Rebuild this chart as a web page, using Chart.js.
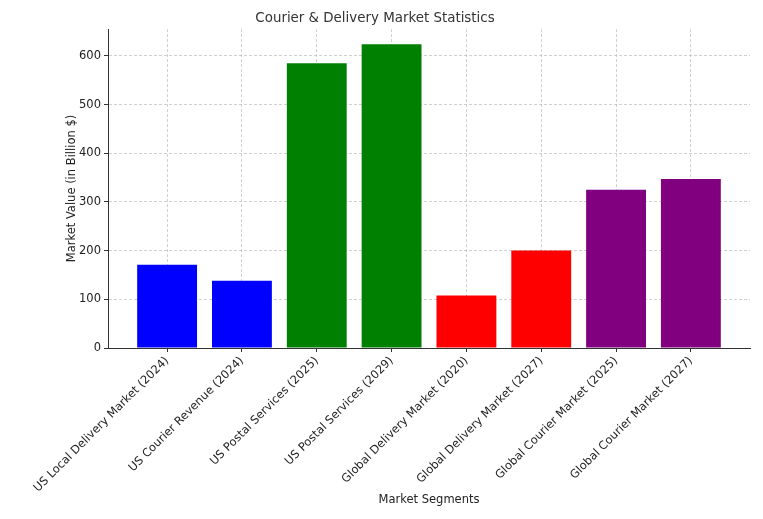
<!DOCTYPE html>
<html>
<head>
<meta charset="utf-8">
<script src="https://cdn.jsdelivr.net/npm/chart.js@4"></script>
<style>
  body { margin: 0; background: #fff; }
  canvas { display: block; }
</style>
</head>
<body>
<canvas id="chart" width="763" height="519"></canvas>
<script>
// data
const segments = [
  "US Local Delivery Market (2024)",
  "US Courier Revenue (2024)",
  "US Postal Services (2025)",
  "US Postal Services (2029)",
  "Global Delivery Market (2020)",
  "Global Delivery Market (2027)",
  "Global Courier Market (2025)",
  "Global Courier Market (2027)"
];
const values = [171, 138, 585, 624, 108, 200, 325, 347];
const barColors = ["#0000ff", "#0000ff", "#008000", "#008000", "#ff0000", "#ff0000", "#800080", "#800080"];
const yTicks = [0, 100, 200, 300, 400, 500, 600];

const font = "'DejaVu Sans', sans-serif";
const gridColor = "rgba(170,170,170,0.55)";

new Chart(document.getElementById('chart'), {
  type: 'bar',
  data: {
    datasets: [{
      data: values.map((v, i) => ({ x: i, y: v })),
      backgroundColor: barColors,
      barPercentage: 0.8,
      categoryPercentage: 1.0
    }]
  },
  options: {
    responsive: false,
    animation: false,
    layout: { padding: { left: 0, right: 13, top: 0, bottom: 0 } },
    plugins: {
      legend: { display: false },
      tooltip: { enabled: false },
      title: {
        display: true,
        text: 'Courier & Delivery Market Statistics',
        color: '#333',
        font: { family: font, size: 13.4, weight: 'normal' },
        padding: { top: 10, bottom: 3 }
      }
    },
    scales: {
      x: {
        type: 'linear',
        min: -0.79,
        max: 7.79,
        offset: false,
        z: 1,
        afterBuildTicks: s => { s.ticks = segments.map((_, i) => ({ value: i })); },
        afterFit: s => { s.height = 171; },
        ticks: {
          autoSkip: false,
          minRotation: 45,
          maxRotation: 45,
          padding: 2,
          color: '#222',
          font: { family: font, size: 11.5 },
          callback: v => segments[v]
        },
        grid: { offset: false, color: gridColor, tickColor: '#333', tickLength: 4, tickBorderDash: [] },
        border: { display: true, color: '#333', width: 1, dash: [3, 2] },
        title: {
          display: true,
          text: 'Market Segments',
          color: '#222',
          font: { family: font, size: 11.5 },
          padding: { top: 0, bottom: 12 }
        }
      },
      y: {
        min: 0,
        max: 655,
        z: 1,
        afterBuildTicks: s => { s.ticks = yTicks.map(v => ({ value: v })); },
        afterFit: s => { s.width = 108; },
        ticks: {
          padding: 3,
          color: '#222',
          font: { family: font, size: 11.5 }
        },
        grid: { color: gridColor, tickColor: '#333', tickLength: 4, tickBorderDash: [] },
        border: { display: true, color: '#333', width: 1, dash: [3, 2] },
        title: {
          display: true,
          text: 'Market Value (in Billion $)',
          color: '#222',
          font: { family: font, size: 11.5 },
          padding: { top: 65, bottom: 0 }
        }
      }
    }
  }
});
</script>
</body>
</html>
